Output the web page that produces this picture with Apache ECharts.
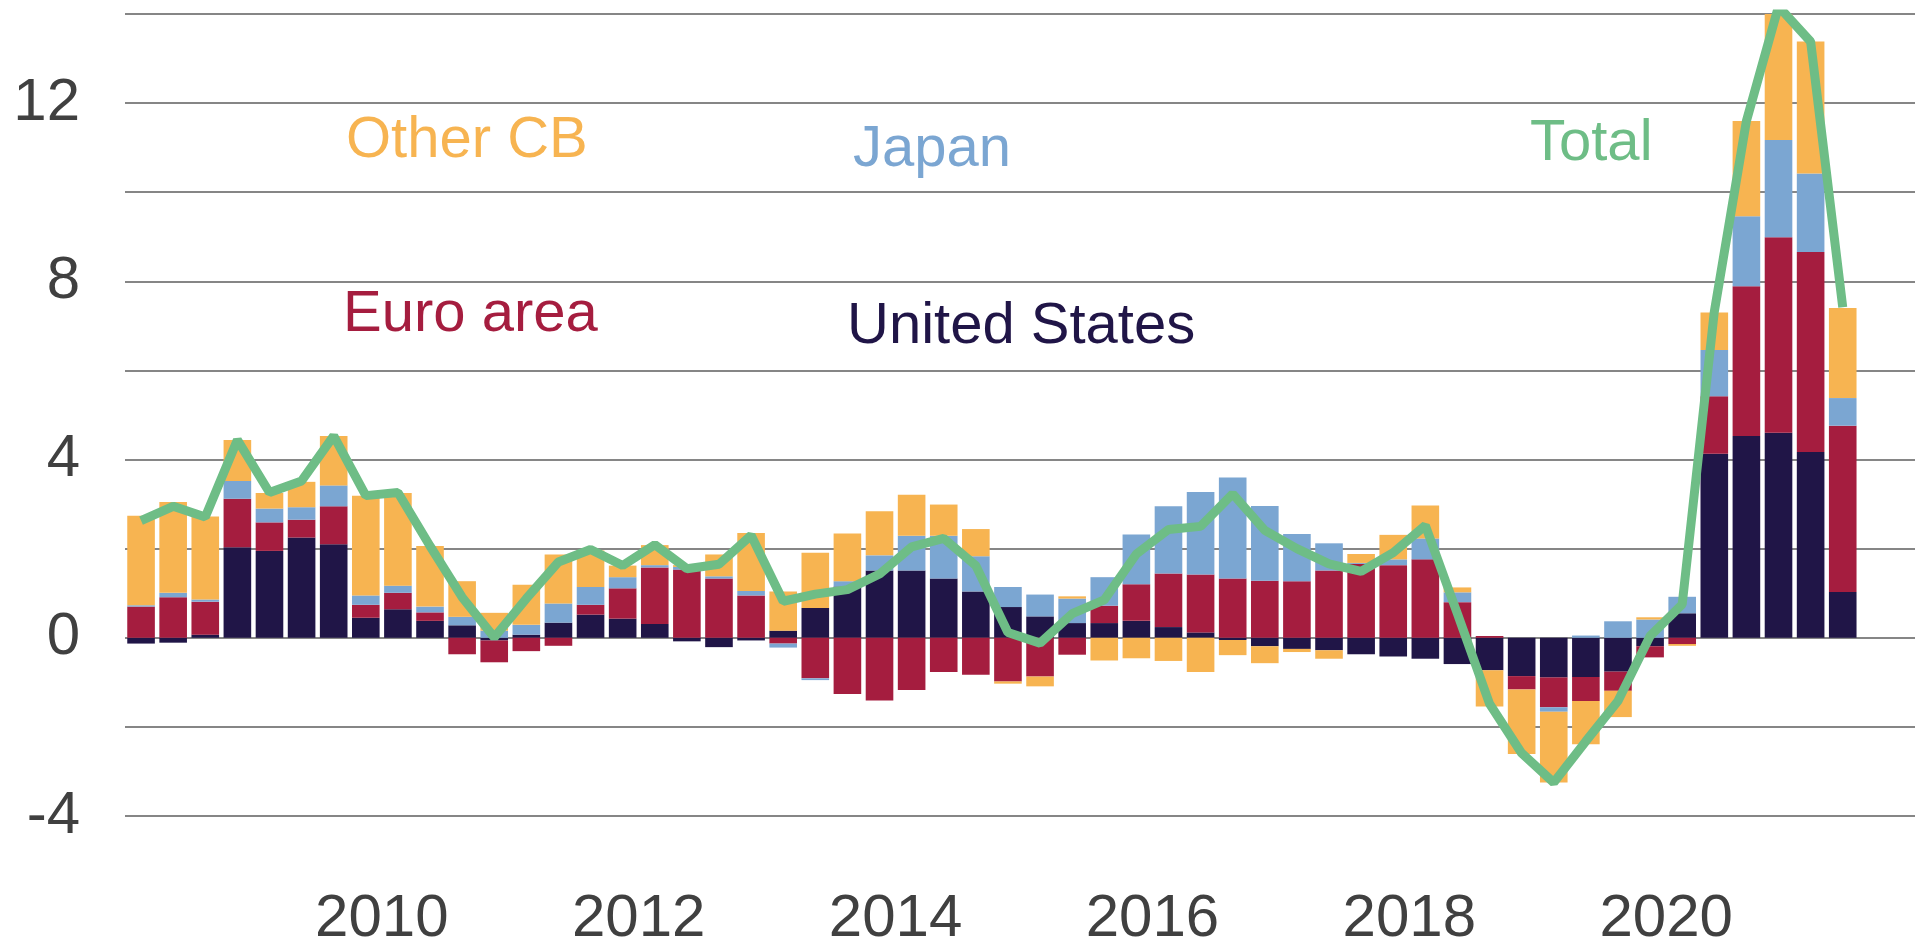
<!DOCTYPE html>
<html>
<head>
<meta charset="utf-8">
<title>Central bank balance sheets</title>
<script src="https://cdn.jsdelivr.net/npm/echarts@6/dist/echarts.min.js"></script>
<style>
  html, body { margin: 0; padding: 0; background: #fff; }
  #chart { width: 1915px; height: 949px; }
</style>
</head>
<body>
<div id="chart"></div>
<script>
// quarterly categories 2008Q1 .. 2021Q4 (last two are empty)
var quarters = [];
for (var y = 2008; y <= 2021; y++) {
    for (var q = 1; q <= 4; q++) quarters.push(y + 'Q' + q);
}
var tickLabels = ['2010', '2012', '2014', '2016', '2018', '2020'];

var unitedStates = [-0.13, -0.11, 0.07, 2.03, 1.95, 2.25, 2.10, 0.45, 0.64, 0.38,
    0.28, -0.06, 0.07, 0.34, 0.52, 0.43, 0.31, -0.08, -0.21, -0.06,
    0.16, 0.67, 1.15, 1.51, 1.51, 1.33, 1.04, 0.69, 0.48, 0.33,
    0.33, 0.38, 0.24, 0.12, -0.05, -0.19, -0.25, -0.28, -0.37, -0.42,
    -0.47, -0.59, -0.73, -0.86, -0.89, -0.88, -0.76, -0.19, 0.55, 4.13,
    4.53, 4.60, 4.17, 1.03];
var euroArea = [0.70, 0.91, 0.74, 1.09, 0.64, 0.40, 0.85, 0.29, 0.37, 0.19,
    -0.37, -0.49, -0.30, -0.18, 0.22, 0.68, 1.27, 1.53, 1.33, 0.95,
    -0.13, -0.91, -1.26, -1.41, -1.17, -0.77, -0.83, -0.98, -0.87, -0.38,
    0.39, 0.82, 1.20, 1.30, 1.33, 1.28, 1.27, 1.51, 1.66, 1.63,
    1.76, 0.80, 0.04, -0.30, -0.67, -0.54, -0.43, -0.25, -0.14, 1.29,
    3.36, 4.39, 4.49, 3.73];
var japan = [0.03, 0.10, 0.05, 0.40, 0.31, 0.28, 0.47, 0.21, 0.16, 0.13,
    0.19, 0.16, 0.22, 0.43, 0.40, 0.25, 0.05, 0.06, 0.05, 0.10,
    -0.09, -0.04, 0.12, 0.34, 0.78, 0.96, 0.79, 0.45, 0.49, 0.55,
    0.64, 1.12, 1.51, 1.85, 2.27, 1.68, 1.06, 0.61, 0.02, 0.13,
    0.47, 0.22, 0, 0, -0.10, 0.05, 0.37, 0.41, 0.37, 1.04,
    1.57, 2.18, 1.76, 0.62];
var otherCB = [2.01, 2.04, 1.86, 0.92, 0.35, 0.57, 1.11, 2.24, 2.08, 1.36,
    0.80, 0.40, 0.90, 1.10, 0.82, 0.26, 0.45, 0.04, 0.49, 1.30,
    0.88, 1.24, 1.07, 0.99, 0.92, 0.70, 0.61, -0.05, -0.22, 0.05,
    -0.51, -0.46, -0.52, -0.77, -0.34, -0.38, -0.07, -0.19, 0.20, 0.55,
    0.74, 0.11, -0.81, -1.45, -1.59, -0.97, -0.59, 0.05, -0.04, 0.84,
    2.14, 2.99, 2.96, 2.02];
var total = [2.63, 2.95, 2.71, 4.44, 3.26, 3.52, 4.53, 3.19, 3.26, 2.06,
    0.91, 0.01, 0.88, 1.70, 1.98, 1.62, 2.09, 1.55, 1.65, 2.30,
    0.82, 0.98, 1.08, 1.43, 2.04, 2.23, 1.62, 0.12, -0.12, 0.54,
    0.85, 1.88, 2.43, 2.50, 3.23, 2.41, 2.00, 1.66, 1.49, 1.91,
    2.52, 0.54, -1.48, -2.59, -3.25, -2.32, -1.42, 0.04, 0.75, 7.32,
    11.60, 14.17, 13.38, 7.42];

var colors = {
    us: '#201547',
    euro: '#A51D3F',
    japan: '#7BA6D2',
    other: '#F7B451',
    total: '#6EBD86'
};
var fontFam = '"Liberation Sans", Arial, sans-serif';

// year labels sit on the quarter boundaries
var boundaries = quarters.concat(['end']);

function barSeries(name, data, color) {
    return {
        name: name,
        type: 'bar',
        stack: 'cb',
        data: data,
        barCategoryGap: '14%',
        itemStyle: {color: color},
        xAxisIndex: 0
    };
}

function note(text, x, y, color) {
    return {
        type: 'text',
        x: x,
        y: y,
        style: {
            text: text,
            fill: color,
            fontSize: 58,
            fontFamily: fontFam,
            verticalAlign: 'middle'
        }
    };
}

var myChart = echarts.init(document.getElementById('chart'));
myChart.setOption({
    animation: false,
    backgroundColor: '#fff',
    grid: {
        left: 125,
        width: 1798,   // runs past the right edge, like the original crop
        top: 14,
        bottom: 133,
        containLabel: false,
        outerBoundsMode: 'none'
    },
    xAxis: [{
        type: 'category',
        data: quarters,
        axisLine: {show: false},
        axisTick: {show: false},
        axisLabel: {show: false}
    }, {
        type: 'category',
        data: boundaries,
        boundaryGap: false,
        position: 'bottom',
        axisLine: {show: false},
        axisTick: {show: false},
        axisLabel: {
            interval: 0,
            margin: 73,
            color: '#404040',
            fontSize: 60,
            fontFamily: fontFam,
            formatter: function (val) {
                var yr = val.slice(0, 4);
                return (val.slice(4) === 'Q1' && tickLabels.indexOf(yr) >= 0) ? yr : '';
            }
        }
    }],
    yAxis: {
        type: 'value',
        min: -4,
        max: 14,
        interval: 2,
        axisLine: {show: false},
        axisTick: {show: false},
        splitLine: {
            show: true,
            lineStyle: {color: '#868686', width: 2}
        },
        axisLabel: {
            margin: 45,
            color: '#404040',
            fontSize: 60,
            fontFamily: fontFam,
            formatter: function (v) {
                return v % 4 === 0 ? String(v) : '';
            }
        }
    },
    series: [
        barSeries('United States', unitedStates, colors.us),
        barSeries('Euro area', euroArea, colors.euro),
        barSeries('Japan', japan, colors.japan),
        barSeries('Other CB', otherCB, colors.other),
        {
            name: 'Total',
            type: 'line',
            data: total,
            xAxisIndex: 0,
            symbol: 'none',
            z: 5,
            lineStyle: {color: colors.total, width: 9},
            itemStyle: {color: colors.total}
        }
    ],
    graphic: [
        note('Other CB', 346, 141, colors.other),
        note('Japan', 853, 150, colors.japan),
        note('Total', 1530, 144, colors.total),
        note('Euro area', 343, 315, colors.euro),
        note('United States', 847, 327, colors.us)
    ]
});
</script>
</body>
</html>
